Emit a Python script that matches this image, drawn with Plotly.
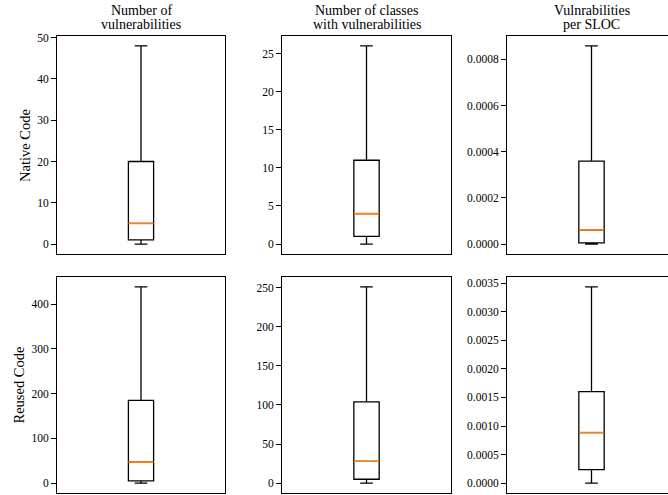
import plotly.graph_objects as go

# ---------------- data ----------------
row_labels = ["Native Code", "Reused Code"]
col_titles = [["Number of", "vulnerabilities"],
              ["Number of classes", "with vulnerabilities"],
              ["Vulnrabilities", "per SLOC"]]

# box statistics: [lower whisker, Q1, median, Q3, upper whisker]
native_vulns = [0, 1, 5, 20, 48]
native_classes = [0, 1, 4, 11, 26]
native_per_sloc = [0.0, 0.000005, 0.000062, 0.000359, 0.000858]
reused_vulns = [0, 5, 47, 185, 439]
reused_classes = [0, 5, 28, 104, 251]
reused_per_sloc = [0.0, 0.000236, 0.000886, 0.001603, 0.003435]

# y tick values per panel
ticks_native_vulns = [0, 10, 20, 30, 40, 50]
ticks_native_classes = [0, 5, 10, 15, 20, 25]
ticks_native_per_sloc = [0.0, 0.0002, 0.0004, 0.0006, 0.0008]
ticks_reused_vulns = [0, 100, 200, 300, 400]
ticks_reused_classes = [0, 50, 100, 150, 200, 250]
ticks_reused_per_sloc = [0.0, 0.0005, 0.0010, 0.0015, 0.0020, 0.0025, 0.0030, 0.0035]

panels = [
    [(native_vulns, ticks_native_vulns, "{:.0f}"),
     (native_classes, ticks_native_classes, "{:.0f}"),
     (native_per_sloc, ticks_native_per_sloc, "{:.4f}")],
    [(reused_vulns, ticks_reused_vulns, "{:.0f}"),
     (reused_classes, ticks_reused_classes, "{:.0f}"),
     (reused_per_sloc, ticks_reused_per_sloc, "{:.4f}")],
]

# ---------------- layout geometry ----------------
W, H = 668, 495
FONT = "Liberation Serif, Times New Roman, serif"
x_px = [(57, 225), (282, 451), (507, 676)]
y_px = [(36, 254), (277, 493)]
BOX_W = 0.15
MEDIAN_COLOR = "#ff7f0e"

fig = go.Figure()
annotations = []

for r in range(2):
    for c in range(3):
        i = r * 3 + c + 1
        xa = "x" if i == 1 else f"x{i}"
        ya = "y" if i == 1 else f"y{i}"
        stats, ticks, fmt = panels[r][c]
        lo, q1, med, q3, hi = stats

        fig.add_trace(go.Box(
            x=[0], q1=[q1], median=[med], q3=[q3],
            lowerfence=[lo], upperfence=[hi],
            width=BOX_W, whiskerwidth=0.5, boxpoints=False,
            line=dict(color="black", width=1.3),
            fillcolor="rgba(255,255,255,0)",
            xaxis=xa, yaxis=ya, hoverinfo="skip", showlegend=False))
        # orange median line
        fig.add_trace(go.Box(
            x=[0], q1=[med], median=[med], q3=[med],
            lowerfence=[med], upperfence=[med],
            width=BOX_W, whiskerwidth=0, boxpoints=False,
            line=dict(color=MEDIAN_COLOR, width=1.6),
            fillcolor="rgba(255,255,255,0)",
            xaxis=xa, yaxis=ya, hoverinfo="skip", showlegend=False))

        x0, x1 = x_px[c]
        x1c = min(x1, W)
        y0, y1 = y_px[r]
        span = hi - lo
        yr = [lo - 0.05 * span, hi + 0.05 * span]
        xr = [-0.5, -0.5 + (x1c - x0) / (x1 - x0)]

        xkey = "xaxis" if i == 1 else f"xaxis{i}"
        ykey = "yaxis" if i == 1 else f"yaxis{i}"
        fig.update_layout(**{
            xkey: dict(domain=[x0 / W, x1c / W], anchor=ya, range=xr,
                       automargin=False,
                       showticklabels=False, ticks="", showgrid=False,
                       zeroline=False, showline=True, mirror=True,
                       linecolor="black", linewidth=1),
            ykey: dict(domain=[1 - y1 / H, 1 - y0 / H], anchor=xa, range=yr,
                       automargin=False,
                       tickvals=ticks, ticktext=[fmt.format(t) for t in ticks],
                       ticks="outside", ticklen=5, tickwidth=1, tickcolor="black",
                       showgrid=False, zeroline=False, showline=True,
                       mirror=(x1 <= W),
                       linecolor="black", linewidth=1,
                       tickfont=dict(family=FONT, size=11.5, color="black")),
        })

# column titles (two lines each)
for c in range(3):
    cx = (x_px[c][0] + x_px[c][1]) / 2
    for k, line in enumerate(col_titles[c]):
        annotations.append(dict(
            text=line, x=cx / W, y=1 - (10.5 + 14.2 * k) / H,
            xref="paper", yref="paper", xanchor="center", yanchor="middle",
            showarrow=False, font=dict(family=FONT, size=14, color="black")))

# row labels
row_label_x = [25, 18.5]
for r in range(2):
    cy = (y_px[r][0] + y_px[r][1]) / 2
    annotations.append(dict(
        text=row_labels[r], x=row_label_x[r] / W, y=1 - cy / H,
        xref="paper", yref="paper", xanchor="center", yanchor="middle",
        textangle=-90, showarrow=False,
        font=dict(family=FONT, size=14.5, color="black")))

fig.update_layout(
    width=W, height=H, margin=dict(l=0, r=0, t=0, b=0),
    paper_bgcolor="white", plot_bgcolor="white",
    boxmode="overlay", showlegend=False,
    annotations=annotations,
    font=dict(family=FONT, color="black"),
)

fig.write_html("out.html",
               config={"displayModeBar": False, "staticPlot": True},
               post_script="document.body.style.margin='0';"
                           "document.body.style.overflow='hidden';")
